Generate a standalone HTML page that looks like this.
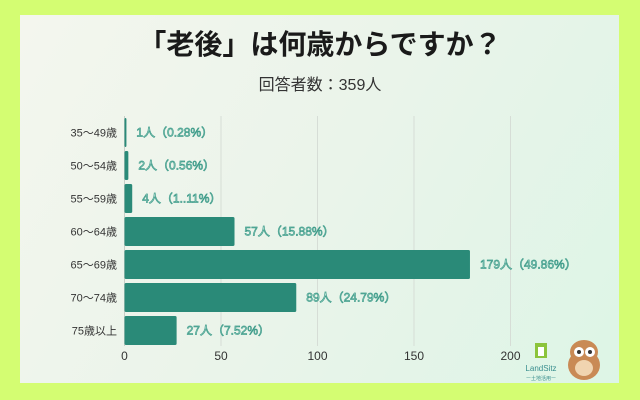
<!DOCTYPE html>
<html><head><meta charset="utf-8"><style>
html,body{margin:0;padding:0;width:640px;height:400px;overflow:hidden;background:#d4fd72;font-family:"Liberation Sans","Noto Sans CJK JP",sans-serif}
#card{position:absolute;left:20px;top:15px;width:599px;height:368px;background:linear-gradient(120deg,#f4f6ee 0%,#eaf4ea 50%,#ddf5e6 100%)}
</style></head><body>
<div id="card"></div>
<svg id="chart" width="640" height="400" style="position:absolute;left:0;top:0">
<text x="320" y="54" text-anchor="middle" font-size="28" font-weight="bold" fill="#1a1a1a" font-family="Liberation Sans,Noto Sans CJK JP,sans-serif">「老後」は何歳からですか？</text>
<text x="320" y="90" text-anchor="middle" font-size="16" fill="#333" font-family="Liberation Sans,Noto Sans CJK JP,sans-serif">回答者数：359人</text>
<g id="grid"></g><g id="bars"></g>
<g>
<rect x="535" y="343" width="12" height="15" fill="#8cc43c"/><rect x="538" y="347" width="6" height="9" fill="#fff"/>
<text x="541" y="371" text-anchor="middle" font-size="8" fill="#3a8f8f" font-family="Liberation Sans,sans-serif">LandSitz</text>
<text x="541" y="380" text-anchor="middle" font-size="5" fill="#3a8f8f" font-family="Liberation Sans,Noto Sans CJK JP,sans-serif">ー土地活用ー</text>
</g>
<g>
<ellipse cx="584" cy="365" rx="16" ry="15" fill="#c98a55"/>
<ellipse cx="584" cy="352" rx="14" ry="12" fill="#c98a55"/>
<circle cx="579" cy="352" r="5" fill="#fff"/><circle cx="590" cy="352" r="5" fill="#fff"/>
<circle cx="579" cy="352" r="2" fill="#333"/><circle cx="590" cy="352" r="2" fill="#333"/>
<ellipse cx="584" cy="368" rx="9" ry="8" fill="#f0d4b0"/>
</g>
</svg>
<script>
const categories=["35〜49歳","50〜54歳","55〜59歳","60〜64歳","65〜69歳","70〜74歳","75歳以上"];
const counts=[1,2,4,57,179,89,27];
const percents=["0.28%","0.56%","1..11%","15.88%","49.86%","24.79%","7.52%"];
const ticks=[0,50,100,150,200];
const NS="http://www.w3.org/2000/svg";
const x0=124.5, pxPer=1.93, yTop=116, rowH=33;
const xs=v=>x0+v*pxPer;
const ys=i=>yTop+i*rowH;
const grid=document.getElementById('grid'), bars=document.getElementById('bars');
function mk(tag,attrs,parent){const e=document.createElementNS(NS,tag);for(const k in attrs)e.setAttribute(k,attrs[k]);parent.appendChild(e);return e;}
ticks.forEach(t=>{
  const l=mk('line',{x1:xs(t),x2:xs(t),y1:116,y2:346,stroke:t===0?'#c8cfc8':'#d6ddd6','stroke-width':1},grid);
  
  
  const tx=mk('text',{x:xs(t),y:360,'text-anchor':'middle','font-size':12,fill:'#333'},grid);
  tx.textContent=t;
  
  
});
categories.forEach((c,i)=>{
  const y=ys(i);
  const lab=mk('text',{x:117,y:y+rowH/2+4,'text-anchor':'end','font-size':11,fill:'#333','font-family':'Liberation Sans,Noto Sans CJK JP,sans-serif'},bars);
  lab.textContent=c;
  
  
  const w=Math.max(xs(counts[i])-x0,1.5);
  const r=mk('rect',{x:x0,y:y+2,width:w,height:29,fill:'#2a8a78',rx:1.5},bars);
  
  
  const v=mk('text',{x:x0+w+10,y:y+rowH/2+4,'font-size':12,fill:'#c4e8de',stroke:'#3f9c8a','stroke-width':0.7,'font-family':'Liberation Sans,Noto Sans CJK JP,sans-serif'},bars);
  v.textContent=counts[i]+'人（'+percents[i]+'）';
  
  
});
</script>
</body></html>
